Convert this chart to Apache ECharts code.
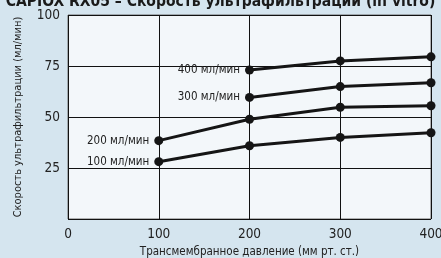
<!DOCTYPE html>
<html>
<head>
	<meta charset="UTF-8">
	<title>Скорость ультрафильтрации</title>
	<style type="text/css">
		html, body {
			margin: 0;
			padding: 0;
			background: #d5e5ef;
		}
		#main {
			width: 441px;
			height: 258px;
		}
	</style>
</head>
<body>
	<div id="main"></div>
	<script src="https://cdn.jsdelivr.net/npm/echarts@6/dist/echarts.min.js"></script>
	<script type="text/javascript">
		// данные графика
		var pressure = [100, 200, 300, 400];
		var xTicks = [0, 100, 200, 300, 400];
		var yTicks = [25, 50, 75, 100];
		var flowNames = ['100 мл/мин', '200 мл/мин', '300 мл/мин', '400 мл/мин'];
		var flow100 = [28.1, 35.9, 40.0, 42.3];
		var flow200 = [38.4, 48.9, 54.8, 55.5];
		var flow300 = [null, 59.6, 64.9, 66.8];
		var flow400 = [null, 73.0, 77.5, 79.5];

		var font = '"DejaVu Sans Condensed", "Liberation Sans", sans-serif';

		// точки линии; первая получает подпись слева
		function makeData(values) {
			var out = [];
			for (var i = 0; i < values.length; i++) {
				if (values[i] == null) continue;
				out.push({ value: [pressure[i], values[i]] });
			}
			return out;
		}

		function makeSeries(name, values) {
			var data = makeData(values);
			data[0].label = {
				show: true,
				position: 'left',
				distance: 5,
				formatter: name,
				color: '#222',
				fontSize: 11.5,
				fontFamily: font
			};
			return {
				name: name,
				type: 'line',
				data: data,
				symbol: 'circle',
				symbolSize: 9,
				lineStyle: { color: '#151515', width: 3 },
				itemStyle: { color: '#151515' },
				z: 5
			};
		}

		var myChart = echarts.init(document.getElementById('main'));
		var option = {
			backgroundColor: '#d5e5ef',
			animation: false,
			title: {
				text: 'CAPIOX RX05 – Скорость ультрафильтрации (in vitro)',
				left: 'center',
				top: -11,
				textStyle: {
					fontSize: 15.5,
					fontWeight: 'bold',
					color: '#1a1a1a',
					fontFamily: font
				}
			},
			grid: {
				left: 68,
				right: 10,
				top: 15,
				bottom: 39,
				outerBoundsMode: 'none',
				containLabel: false,
				show: true,
				backgroundColor: '#f3f7fa',
				borderColor: '#6a6a6a',
				borderWidth: 1
			},
			xAxis: {
				type: 'value',
				min: xTicks[0],
				max: xTicks[xTicks.length - 1],
				interval: 100,
				name: 'Трансмембранное давление (мм рт. ст.)',
				nameLocation: 'middle',
				nameGap: 27,
				nameTextStyle: { color: '#222', fontSize: 11.5, fontFamily: font },
				axisLine: { show: false },
				axisTick: { show: false },
				axisLabel: { color: '#222', fontSize: 13.5, margin: 8, fontFamily: font },
				splitLine: { show: true, lineStyle: { color: '#111', width: 1 } }
			},
			yAxis: {
				type: 'value',
				min: 0,
				max: yTicks[yTicks.length - 1],
				interval: 25,
				name: 'Скорость ультрафильтрации (мл/мин)',
				nameLocation: 'middle',
				nameGap: 44,
				nameRotate: 90,
				nameTextStyle: { color: '#222', fontSize: 11, fontFamily: font },
				axisLine: { show: false },
				axisTick: { show: false },
				axisLabel: {
					color: '#222',
					fontSize: 13.5,
					margin: 8,
					fontFamily: font,
					formatter: function (v) { return v === 0 ? '' : v; }
				},
				splitLine: { show: true, lineStyle: { color: '#111', width: 1 } }
			},
			series: [
				makeSeries(flowNames[0], flow100),
				makeSeries(flowNames[1], flow200),
				makeSeries(flowNames[2], flow300),
				makeSeries(flowNames[3], flow400)
			]
		};
		myChart.setOption(option);
	</script>
</body>
</html>
